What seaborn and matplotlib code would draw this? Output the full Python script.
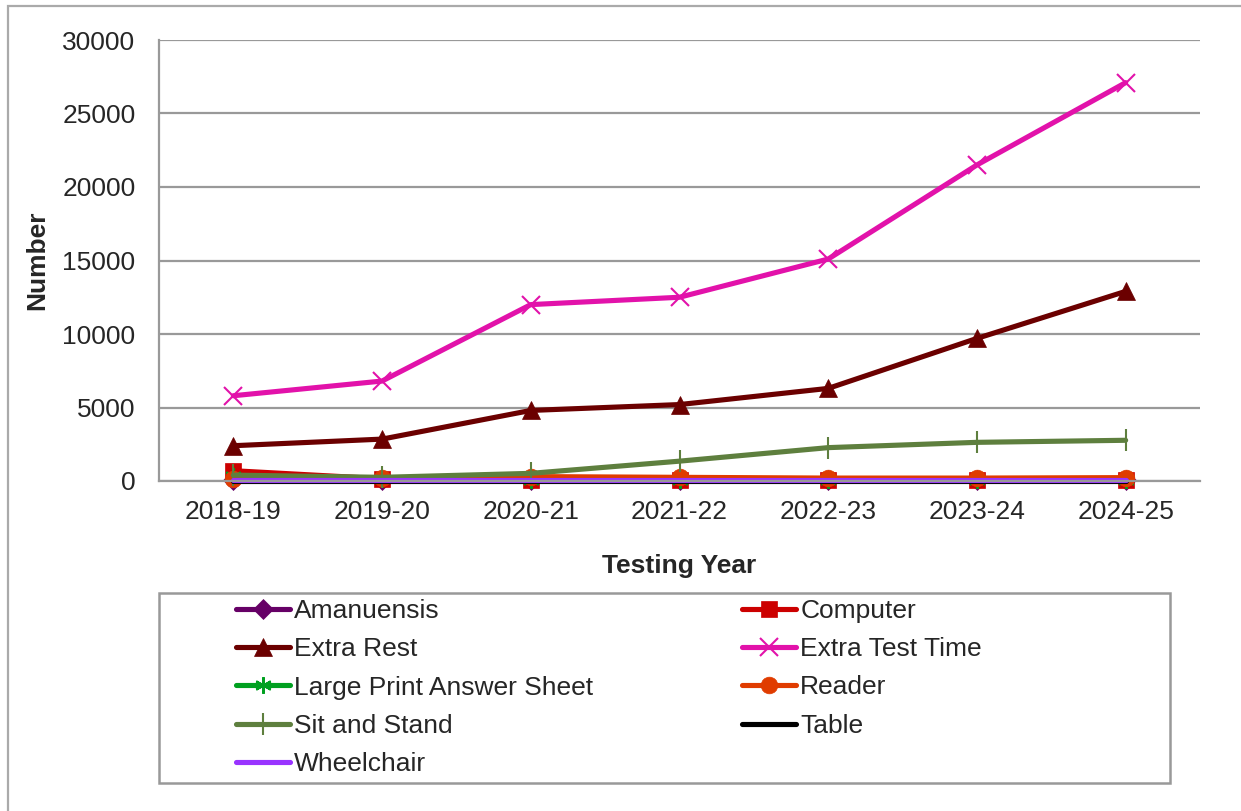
import matplotlib
matplotlib.use("Agg")
import matplotlib.pyplot as plt
import matplotlib.patches as patches
import seaborn as sns
import pandas as pd

sns.set_style("white")
plt.rcParams['font.family'] = ['Liberation Sans', 'DejaVu Sans']

years = ["2018-19", "2019-20", "2020-21", "2021-22", "2022-23", "2023-24", "2024-25"]

amanuensis = [60, 40, 40, 40, 40, 40, 40]
computer = [700, 150, 60, 70, 60, 60, 60]
extra_rest = [2400, 2850, 4800, 5200, 6300, 9700, 12900]
extra_test_time = [5800, 6800, 12000, 12500, 15100, 21500, 27100]
large_print = [350, 150, 100, 80, 60, 60, 60]
reader = [150, 200, 300, 250, 200, 200, 230]
sit_and_stand = [400, 250, 520, 1350, 2270, 2630, 2770]
table = [10, 10, 10, 10, 10, 10, 10]
wheelchair = [40, 40, 40, 40, 40, 40, 40]

series = [
    ("Amanuensis", amanuensis, "#660066", "D", 10),
    ("Computer", computer, "#cc0000", "s", 11),
    ("Extra Rest", extra_rest, "#6b0000", "^", 13),
    ("Extra Test Time", extra_test_time, "#e212aa", "x", 13),
    ("Large Print Answer Sheet", large_print, "#00a020", (6, 2, 0), 12),
    ("Reader", reader, "#e03c00", "o", 12),
    ("Sit and Stand", sit_and_stand, "#5e7f3e", "|", 16),
    ("Table", table, "#000000", None, 0),
    ("Wheelchair", wheelchair, "#9933ff", None, 0),
]

fig = plt.figure(figsize=(12.41, 8.11), dpi=100)
ax = fig.add_axes([159 / 1241, 1 - 481 / 811, (1200 - 159) / 1241, (481 - 40) / 811])

for name, vals, color, marker, ms in series:
    df = pd.DataFrame({"year": years, "value": vals})
    sns.lineplot(data=df, x="year", y="value", ax=ax, color=color, linewidth=3.7,
                 marker=marker, markersize=ms, markeredgecolor=color,
                 markeredgewidth=1.5 if marker in ("x", "|", (6, 2, 0)) else 0.5,
                 label=name, sort=False)

# let markers sitting on the zero line spill below the axis like the original
for line in ax.lines:
    line.set_clip_on(False)

ax.set_xlim(-0.5, 6.5)
ax.set_ylim(0, 30000)
ax.set_yticks(range(0, 30001, 5000))
ax.yaxis.grid(True, color="#999999", linewidth=1.6)
ax.set_axisbelow(True)
for s in ["top", "right"]:
    ax.spines[s].set_visible(False)
for s in ["left", "bottom"]:
    ax.spines[s].set_color("#999999")
    ax.spines[s].set_linewidth(1.6)

ax.set_xticks([i - 0.5 for i in range(8)], minor=True)
ax.tick_params(axis="x", which="major", length=0, pad=14, labelsize=19)
ax.tick_params(axis="x", which="minor", length=7, width=1.3, color="#999999", direction="out")
ax.tick_params(axis="y", length=7, width=1.3, color="#999999", direction="out", labelsize=19, pad=10)

ax.set_xlabel("Testing Year", fontsize=19, fontweight="bold", labelpad=21)
ax.set_ylabel("Number", fontsize=19, fontweight="bold", labelpad=9)

ax.get_legend().remove()
handles, labels = ax.get_legend_handles_labels()
order = [0, 2, 4, 6, 8, 1, 3, 5, 7]
fig.legend([handles[i] for i in order], [labels[i] for i in order], ncol=2,
           frameon=False, fontsize=19,
           loc="upper left", bbox_to_anchor=(236 / 1241, 1 - 599 / 811),
           borderaxespad=0, borderpad=0, handlelength=2.05, handletextpad=0.15,
           labelspacing=0.54, columnspacing=5.65)

# legend box
fig.patches.append(patches.Rectangle((159 / 1241, 1 - 783 / 811), (1170 - 159) / 1241,
                                     (783 - 593) / 811, transform=fig.transFigure,
                                     fill=False, edgecolor="#999999", linewidth=1.8))
# outer chart frame
fig.patches.append(patches.Rectangle((8 / 1241, -0.1), 1.2, 1 - 6 / 811 + 0.1,
                                     transform=fig.transFigure, fill=False,
                                     edgecolor="#aaaaaa", linewidth=1.6))

fig.savefig("out.png", dpi=100)
